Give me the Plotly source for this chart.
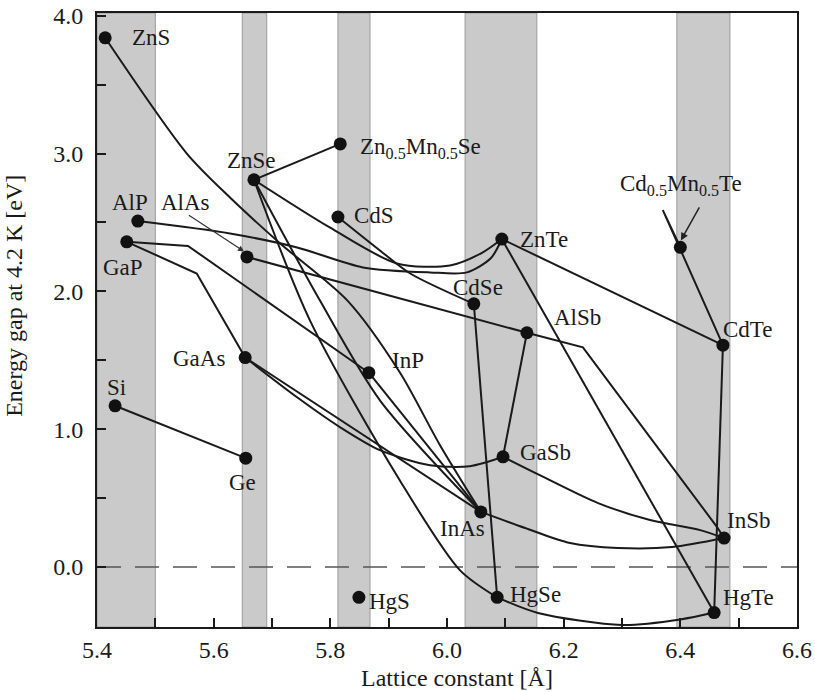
import plotly.graph_objects as go

# ---------------- data ----------------
compounds = ["ZnS", "ZnSe", "Zn05Mn05Se", "CdS", "AlP", "GaP", "AlAs", "ZnTe", "CdSe",
             "AlSb", "CdTe", "Cd05Mn05Te", "GaAs", "InP", "Si", "Ge", "HgS", "GaSb",
             "InAs", "HgSe", "InSb", "HgTe"]
lattice = [5.414, 5.669, 5.817, 5.813, 5.470, 5.451, 5.657, 6.094, 6.046,
           6.137, 6.473, 6.400, 5.654, 5.866, 5.431, 5.655, 5.849, 6.096,
           6.058, 6.086, 6.475, 6.458]
gap = [3.84, 2.81, 3.07, 2.54, 2.51, 2.36, 2.25, 2.38, 1.91,
       1.70, 1.61, 2.32, 1.52, 1.41, 1.17, 0.79, -0.22, 0.80,
       0.40, -0.22, 0.21, -0.33]

label_text = ["ZnS", "ZnSe", "Zn<sub>0.5</sub>Mn<sub>0.5</sub>Se", "CdS", "AlP", "GaP", "AlAs",
              "ZnTe", "CdSe", "AlSb", "CdTe", "Cd<sub>0.5</sub>Mn<sub>0.5</sub>Te", "GaAs", "InP",
              "Si", "Ge", "HgS", "GaSb", "InAs", "HgSe", "InSb", "HgTe"]
label_x = [5.457, 5.664, 5.847, 5.837, 5.457, 5.445, 5.551, 6.122, 6.053,
           6.223, 6.516, 6.401, 5.575, 5.933, 5.433, 5.650, 5.863, 6.168,
           6.026, 6.151, 6.516, 6.516]
label_y = [3.84, 2.95, 3.04, 2.55, 2.645, 2.17, 2.645, 2.38, 2.03,
           1.81, 1.72, 2.77, 1.515, 1.50, 1.30, 0.61, -0.25, 0.83,
           0.28, -0.20, 0.34, -0.22]
label_anchor = ["left", "center", "left", "left", "center", "center", "center", "left", "center",
                "center", "center", "center", "center", "center", "center", "center", "left", "center",
                "center", "center", "center", "center"]

# alloy curves: (start compound, intermediate x, intermediate y, end compound)
znse_znmnse = ("ZnSe", [], [], "Zn05Mn05Se")
cdmnte = ("Cd05Mn05Te", [6.370], [2.59], "CdTe")
znte_cdte = ("ZnTe", [], [], "CdTe")
znte_hgte = ("ZnTe", [], [], "HgTe")
cdse_hgse = ("CdSe", [], [], "HgSe")
alsb_gasb = ("AlSb", [], [], "GaSb")
alsb_insb = ("AlSb", [6.233, 6.463], [1.594, 0.290], "InSb")
gasb_insb = ("GaSb", [6.159, 6.259, 6.348, 6.434], [0.667, 0.464, 0.341, 0.268], "InSb")
inas_insb = ("InAs", [6.134, 6.211, 6.293, 6.386], [0.283, 0.174, 0.138, 0.145], "InSb")
hgse_hgte = ("HgSe", [6.156, 6.300, 6.40], [-0.333, -0.420, -0.38], "HgTe")
cdte_hgte = ("CdTe", [], [], "HgTe")
si_ge = ("Si", [], [], "Ge")
gap_gaas = ("GaP", [5.571], [2.13], "GaAs")
gap_inp = ("GaP", [5.556], [2.33], "InP")
gaas_gasb = ("GaAs", [5.743, 5.817, 5.885, 5.971, 6.039], [1.232, 1.014, 0.848, 0.739, 0.732], "GaSb")
gaas_inas = ("GaAs", [], [], "InAs")
alas_alsb = ("AlAs", [], [], "AlSb")
cds_cdse = ("CdS", [5.885, 5.937], [2.297, 2.130], "CdSe")
znse_znte = ("ZnSe", [5.799, 5.914, 6.005, 6.060], [2.464, 2.203, 2.188, 2.28], "ZnTe")
alp_znte = ("AlP", [5.628, 5.743, 5.856, 5.971, 6.034, 6.075], [2.42, 2.319, 2.174, 2.138, 2.138, 2.24], "ZnTe")
zns_inas = ("ZnS", [5.554, 5.628, 5.714, 5.829, 5.919, 5.988], [3.0, 2.681, 2.348, 1.935, 1.413, 0.884], "InAs")
znse_hgse = ("ZnSe", [5.765, 5.919, 6.022], [1.79, 0.63, -0.022], "HgSe")
znse_inas = ("ZnSe", [5.782, 5.885], [1.935, 1.21], "InAs")
inp_inas = ("InP", [], [], "InAs")

curves = [znse_znmnse, cdmnte, znte_cdte, znte_hgte, cdse_hgse, alsb_gasb, alsb_insb,
          gasb_insb, inas_insb, hgse_hgte, cdte_hgte, si_ge, gap_gaas, gap_inp, gaas_gasb,
          gaas_inas, alas_alsb, cds_cdse, znse_znte, alp_znte, zns_inas, znse_hgse, znse_inas,
          inp_inas]
curve_names = ["znse_znmnse", "cdmnte", "znte_cdte", "znte_hgte", "cdse_hgse", "alsb_gasb", "alsb_insb",
               "gasb_insb", "inas_insb", "hgse_hgte", "cdte_hgte", "si_ge", "gap_gaas", "gap_inp", "gaas_gasb",
               "gaas_inas", "alas_alsb", "cds_cdse", "znse_znte", "alp_znte", "zns_inas", "znse_hgse",
               "znse_inas", "inp_inas"]
smooth_curves = {"gasb_insb", "inas_insb", "hgse_hgte", "gaas_gasb", "cds_cdse", "znse_znte",
                 "alp_znte", "zns_inas", "znse_hgse", "znse_inas"}

bands = [(5.400, 5.500), (5.649, 5.691), (5.813, 5.868), (6.031, 6.154), (6.394, 6.485)]

x_range = [5.4, 6.6]
y_range = [-0.435, 4.02]

# ---------------- figure ----------------
FONT = "Liberation Serif, Times New Roman, serif"
idx = {c: i for i, c in enumerate(compounds)}

fig = go.Figure()

for name, (a, mx, my, b) in zip(curve_names, curves):
    xs = [lattice[idx[a]]] + list(mx) + [lattice[idx[b]]]
    ys = [gap[idx[a]]] + list(my) + [gap[idx[b]]]
    fig.add_trace(go.Scatter(
        x=xs, y=ys, mode="lines",
        line=dict(color="#1a1a1a", width=2,
                  shape="spline" if name in smooth_curves else "linear",
                  smoothing=0.8),
        hoverinfo="skip", showlegend=False))

fig.add_trace(go.Scatter(
    x=lattice, y=gap, mode="markers",
    marker=dict(color="#111111", size=13),
    showlegend=False, hoverinfo="text", text=compounds))

for t, x, y, anc in zip(label_text, label_x, label_y, label_anchor):
    fig.add_annotation(x=x, y=y, text=t, showarrow=False, xanchor=anc, yanchor="middle",
                       font=dict(family=FONT, size=23, color="#1a1a1a"))

# arrows for AlAs and Cd0.5Mn0.5Te labels
fig.add_annotation(x=5.652, y=2.29, ax=5.555, ay=2.56, xref="x", yref="y", axref="x", ayref="y",
                   text="", showarrow=True, arrowhead=2, arrowsize=1, arrowwidth=1.2, arrowcolor="#333")
fig.add_annotation(x=6.401, y=2.37, ax=6.434, ay=2.62, xref="x", yref="y", axref="x", ayref="y",
                   text="", showarrow=True, arrowhead=2, arrowsize=1, arrowwidth=1.5, arrowcolor="#222")

# gray bands
for x0, x1 in bands:
    fig.add_shape(type="rect", xref="x", yref="paper", x0=x0, x1=x1, y0=0, y1=1,
                  fillcolor="#cacaca", line=dict(color="#9a9a9a", width=1), layer="below")

# zero line
fig.add_shape(type="line", xref="paper", yref="y", x0=0, x1=1, y0=0, y1=0,
              line=dict(color="#555555", width=1.5, dash="24px,14px"), layer="below")

# axis titles
fig.add_annotation(xref="paper", yref="paper", x=0.514, y=-0.058, yanchor="top",
                   text="Lattice constant [Å]", showarrow=False,
                   font=dict(family=FONT, size=24, color="#1a1a1a"))
fig.add_annotation(x=-0.118, y=0.54, xref="paper", yref="paper", textangle=-90,
                   text="Energy gap at 4.2 K [eV]", showarrow=False, xanchor="center", yanchor="middle",
                   font=dict(family=FONT, size=24, color="#1a1a1a"))

fig.update_xaxes(range=x_range, showgrid=False, zeroline=False, automargin=False,
                 showline=True, linecolor="#1a1a1a", linewidth=2, mirror=True,
                 ticks="inside", ticklen=9, tickwidth=1.5, tickcolor="#1a1a1a",
                 dtick=0.2, tick0=5.4, tickformat=".1f",
                 minor=dict(dtick=0.1, tick0=5.4, ticks="inside", ticklen=9, tickwidth=1.5, tickcolor="#1a1a1a"),
                 tickfont=dict(family=FONT, size=24, color="#1a1a1a"), ticklabelstandoff=0)
fig.update_yaxes(range=y_range, showgrid=False, zeroline=False, automargin=False,
                 showline=True, linecolor="#1a1a1a", linewidth=2, mirror=True,
                 ticks="inside", ticklen=9, tickwidth=1.5, tickcolor="#1a1a1a",
                 dtick=1.0, tick0=0, tickformat=".1f",
                 minor=dict(dtick=0.5, tick0=0, ticks="inside", ticklen=9, tickwidth=1.5, tickcolor="#1a1a1a"),
                 tickfont=dict(family=FONT, size=24, color="#1a1a1a"), ticklabelstandoff=7)

fig.update_layout(width=815, height=692, margin=dict(l=97, r=18, t=13, b=65, autoexpand=False),
                  plot_bgcolor="white", paper_bgcolor="white", showlegend=False)

fig.write_html("out.html")
